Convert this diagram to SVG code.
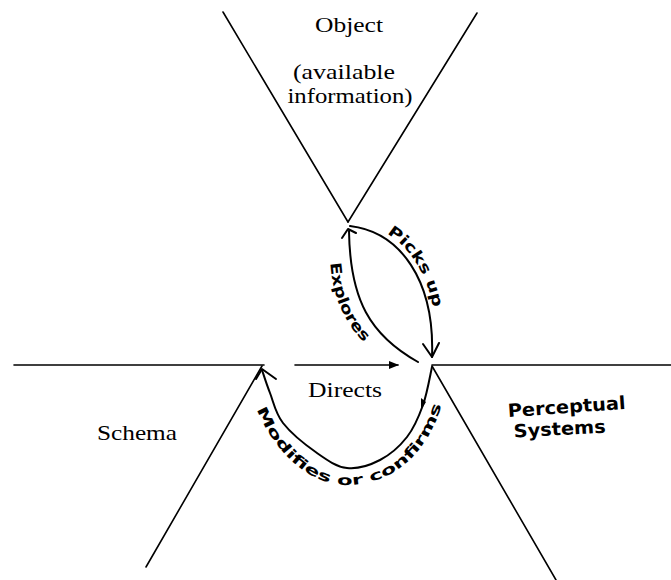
<svg xmlns="http://www.w3.org/2000/svg" width="671" height="580" viewBox="0 0 671 580">
<style>
.ln{stroke:#000;stroke-width:1.6;fill:none;stroke-linecap:round}
.hw{stroke:#000;stroke-width:2;fill:none;stroke-linecap:round;stroke-linejoin:round}
.serif{font-family:"Liberation Serif","DejaVu Serif",serif;font-size:22px;fill:#000}
.hand{font-family:"DejaVu Sans","Liberation Sans",sans-serif;font-weight:bold;fill:#000}
</style>
<defs>
<marker id="tri" markerWidth="10" markerHeight="8" refX="9" refY="4" orient="auto" markerUnits="userSpaceOnUse">
<path d="M0,0 L10,4 L0,8 z" fill="#000"/>
</marker>
<path id="tpPicks" d="M353,222 C 405,228 440,278 437,358"/>
<path id="tpExplores" d="M330,255 C 331,295 345,335 385,358"/>
<path id="tpModifies" d="M245,369 C 258,440 303,485 347,485 C 400,485 442,442 449,366"/>
</defs>

<g id="object">
<line class="ln" x1="223" y1="12" x2="348" y2="222"/>
<line class="ln" x1="477" y1="13" x2="348" y2="222"/>
<text class="serif" x="349" y="32" text-anchor="middle" textLength="68" lengthAdjust="spacingAndGlyphs">Object</text>
<text class="serif" x="344" y="79" text-anchor="middle" textLength="102" lengthAdjust="spacingAndGlyphs">(available</text>
<text class="serif" x="350" y="103" text-anchor="middle" textLength="125" lengthAdjust="spacingAndGlyphs">information)</text>
</g>

<g id="schema">
<line class="ln" x1="14" y1="365" x2="264" y2="365"/>
<line class="ln" x1="262" y1="366" x2="146" y2="567"/>
<text class="serif" x="137" y="440" text-anchor="middle" textLength="80" lengthAdjust="spacingAndGlyphs">Schema</text>
</g>

<g id="perceptual">
<line class="ln" x1="432" y1="365" x2="671" y2="365"/>
<line class="ln" x1="432" y1="366" x2="556" y2="580"/>
<text class="hand" font-size="18" transform="rotate(-4 567 413)" x="567" y="413" text-anchor="middle" textLength="118" lengthAdjust="spacingAndGlyphs">Perceptual</text>
<text class="hand" font-size="18" transform="rotate(-3 560 435)" x="560" y="435" text-anchor="middle" textLength="92" lengthAdjust="spacingAndGlyphs">Systems</text>
</g>

<g id="connectors">
<line class="ln" x1="295" y1="365" x2="398" y2="365" marker-end="url(#tri)"/>
<text class="serif" x="345" y="397" text-anchor="middle" textLength="74" lengthAdjust="spacingAndGlyphs">Directs</text>

<path class="hw" d="M350,226 C 400,232 435,280 432,357"/>
<path class="hw" d="M423,344 L432,357 L439,343"/>
<text class="hand" font-size="15"><textPath href="#tpPicks" startOffset="36" textLength="90" lengthAdjust="spacingAndGlyphs">Picks up</textPath></text>

<path class="hw" d="M418,362 C 370,335 350,300 349,231"/>
<path class="hw" d="M342,238 L348,229 L356,233"/>
<text class="hand" font-size="15"><textPath href="#tpExplores" startOffset="8" textLength="88" lengthAdjust="spacingAndGlyphs">Explores</textPath></text>

<path class="hw" d="M432,367 C 430.5,373.3 427.2,393.3 423,405 C 418.8,416.7 414.2,427.8 407,437 C 399.8,446.2 390,454.8 380,460 C 370,465.2 357.5,469.2 347,468 C 336.5,466.8 327.7,460.5 317,453 C 306.3,445.5 290.8,433 283,423 C 275.2,413 273.5,401.8 270,393 C 266.5,384.2 263.3,373.8 262,370"/>
<path class="hw" d="M256,379 L262,369 L276,379"/>
<path d="M421,398 L426,402 L421,410 z" fill="#000"/>
<text class="hand" font-size="14"><textPath href="#tpModifies" startOffset="42" textLength="258" lengthAdjust="spacingAndGlyphs">Modifies or confirms</textPath></text>
</g>
</svg>
